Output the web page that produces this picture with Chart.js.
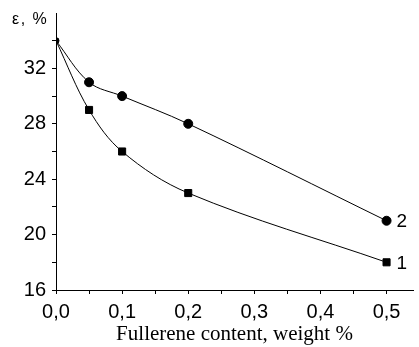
<!DOCTYPE html>
<html>
<head>
<meta charset="utf-8">
<script src="https://cdn.jsdelivr.net/npm/chart.js@4.4.1/dist/chart.umd.min.js"></script>
<style>
  html, body { margin: 0; padding: 0; background: #fff; }
  #wrap { width: 419px; height: 347px; }
</style>
</head>
<body>
<div id="wrap"><canvas id="chart" width="419" height="347"></canvas></div>
<script>
// fullerene content, weight %
const content = [0, 0.05, 0.1, 0.2, 0.5];
// elongation, %
const curve1 = [34, 29, 26, 23, 18];
const curve2 = [34, 31, 30, 28, 21];
const curveNames = ['1', '2'];

const xTicks = [0, 0.05, 0.1, 0.15, 0.2, 0.25, 0.3, 0.35, 0.4, 0.45, 0.5];
const xTickLabels = ['0,0', '', '0,1', '', '0,2', '', '0,3', '', '0,4', '', '0,5'];
const yTicks = [16, 18, 20, 22, 24, 26, 28, 30, 32, 34];
const yTickLabels = ['16', '', '20', '', '24', '', '28', '', '32', ''];

const toPoints = (ys) => content.map((x, i) => ({ x: x, y: ys[i] }));

// first point is shared, drawn smaller
const radius = (big) => content.map((x, i) => i === 0 ? 3 : big);

const endLabels = {
    id: 'endLabels',
    afterDraw(chart) {
        const ctx = chart.ctx;
        ctx.save();
        ctx.fillStyle = '#000';
        ctx.font = '19px "Liberation Sans", Arial, sans-serif';
        ctx.textBaseline = 'middle';
        ctx.textAlign = 'left';
        chart.data.datasets.forEach((ds, i) => {
            const meta = chart.getDatasetMeta(i);
            const last = meta.data[meta.data.length - 1];
            ctx.fillText(curveNames[i], last.x + 10, last.y + 1);
        });
        // y axis title, horizontal at the top left
        ctx.font = '16px "Liberation Sans", Arial, sans-serif';
        ctx.letterSpacing = '1.5px';
        ctx.textBaseline = 'alphabetic';
        ctx.fillText('ε, %', 12, 24);
        ctx.restore();
    }
};

new Chart(document.getElementById('chart'), {
    type: 'line',
    data: {
        datasets: [{
            label: curveNames[0],
            data: toPoints(curve1),
            borderColor: '#000',
            backgroundColor: '#000',
            borderWidth: 1,
            pointStyle: 'rect',
            pointRadius: radius(5),
            tension: 0.35,
        }, {
            label: curveNames[1],
            data: toPoints(curve2),
            borderColor: '#000',
            backgroundColor: '#000',
            borderWidth: 1,
            pointStyle: 'circle',
            pointRadius: radius(4.5),
            tension: 0.35,
        }],
    },
    options: {
        responsive: false,
        animation: false,
        layout: { padding: { top: 13, right: 1, left: 0, bottom: 0 } },
        plugins: {
            legend: { display: false },
            tooltip: { enabled: false },
        },
        scales: {
            x: {
                type: 'linear',
                min: 0,
                max: 0.54,
                afterBuildTicks: (axis) => { axis.ticks = xTicks.map(v => ({ value: v })); },
                afterFit: (axis) => { axis.height = 57; axis.paddingRight = 0; },
                border: { color: '#000', width: 1 },
                grid: { display: true, drawOnChartArea: false, tickLength: 4, color: '#000' },
                ticks: {
                    color: '#000',
                    padding: 6,
                    maxRotation: 0,
                    autoSkip: false,
                    font: { family: '"Liberation Sans", Arial, sans-serif', size: 20 },
                    callback: (v, i) => xTickLabels[i],
                },
                title: {
                    display: true,
                    text: 'Fullerene content, weight %',
                    color: '#000',
                    padding: { top: 0, bottom: 0 },
                    font: { family: '"Liberation Serif", "Times New Roman", serif', size: 21 },
                },
            },
            y: {
                type: 'linear',
                min: 16,
                max: 36,
                afterBuildTicks: (axis) => { axis.ticks = yTicks.map(v => ({ value: v })); },
                afterFit: (axis) => { axis.width = 56; axis.paddingTop = 0; },
                border: { color: '#000', width: 1 },
                grid: { display: true, drawOnChartArea: false, tickLength: 4, color: '#000' },
                ticks: {
                    color: '#000',
                    padding: 6,
                    autoSkip: false,
                    font: { family: '"Liberation Sans", Arial, sans-serif', size: 20 },
                    callback: (v, i) => yTickLabels[i],
                },
            },
        },
    },
    plugins: [endLabels],
});
</script>
</body>
</html>
